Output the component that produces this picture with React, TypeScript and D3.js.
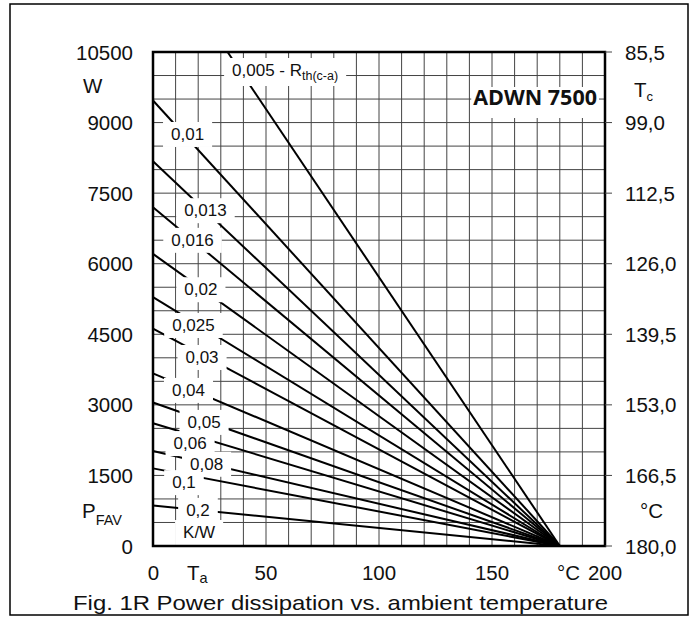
import React, { useEffect, useRef } from 'react';
import * as d3 from 'd3';

// Rth(c-a) curves, K/W
const rthLabels = ['0,005', '0,01', '0,013', '0,016', '0,02', '0,025', '0,03', '0,04', '0,05', '0,06', '0,08', '0,1', '0,2'];
// where each curve enters the grid (Ta in °C, P in W), read from the sheet
const startTa = [33, 0, 0, 0, 0, 0, 0, 0, 0, 0, 0, 0, 0];
const startP = [10500, 9470, 8180, 7200, 6210, 5290, 4620, 3670, 3050, 2610, 2020, 1650, 860];
// all curves meet at Tc = 180 °C, P = 0
const endTa = 180;
const endP = 0;

const powerTicks = [0, 1500, 3000, 4500, 6000, 7500, 9000, 10500];
const tempTicks = [0, 50, 100, 150, 200];
const caseTicks = [180, 166.5, 153, 139.5, 126, 112.5, 99, 85.5];

// label anchors in data units (Ta, P at baseline)
const labelTa = [35, 15.3, 23.2, 17.5, 21.2, 17.9, 21.7, 15.7, 22.6, 16.4, 23.7, 13.7, 19.9];
const labelP = [9990, 8630, 7010, 6380, 5330, 4570, 3890, 3190, 2510, 2060, 1620, 1230, 640];

const FONT = "'Liberation Sans', Arial, sans-serif";

const Chart: React.FC = () => {
  const svgRef = useRef<SVGSVGElement>(null);

  useEffect(() => {
    if (!svgRef.current) return;
    const svg = d3.select(svgRef.current);
    svg.selectAll('*').remove();

    const left = 153, right = 605, top = 52, bottom = 546;

    const x = d3.scaleLinear().domain([0, 200]).range([left, right]);
    const y = d3.scaleLinear().domain([0, 10500]).range([bottom, top]);
    const yc = d3.scaleLinear().domain([180, 85.5]).range([bottom, top]);
    const comma = d3.formatLocale({ decimal: ',', thousands: '', grouping: [3], currency: ['', ''] }).format('.1f');

    svg.append('rect')
      .attr('x', 10).attr('y', 4).attr('width', 678).attr('height', 611)
      .attr('fill', 'white').attr('stroke', 'black').attr('stroke-width', 1.5);

    // grid
    const grid = svg.append('g').attr('stroke', '#444').attr('stroke-width', 1);
    grid.selectAll('line.v')
      .data(d3.range(10, 200, 10))
      .enter().append('line')
        .attr('x1', d => x(d)).attr('x2', d => x(d))
        .attr('y1', top).attr('y2', bottom);
    grid.selectAll('line.h')
      .data(d3.range(500, 10500, 500))
      .enter().append('line')
        .attr('x1', left).attr('x2', right)
        .attr('y1', d => y(d)).attr('y2', d => y(d));

    // curves
    svg.append('g')
      .attr('stroke', 'black').attr('stroke-width', 2)
      .selectAll('line')
      .data(rthLabels.map((l, i) => ({ l, ta: startTa[i], p: startP[i] })))
      .enter().append('line')
        .attr('x1', d => x(d.ta)).attr('y1', d => y(d.p))
        .attr('x2', x(endTa)).attr('y2', y(endP));

    // curve labels on white boxes
    const boxes = svg.append('g').attr('fill', 'white');
    const labels = svg.append('g').attr('font-family', FONT).attr('font-size', 17).attr('fill', '#111');
    const addBox = (node: SVGTextElement, px: number, py: number) => {
      const b = node.getBBox();
      boxes.append('rect')
        .attr('x', b.x - px).attr('y', b.y - py)
        .attr('width', b.width + 2 * px).attr('height', b.height + 2 * py);
    };
    rthLabels.forEach((lab, i) => {
      const t = labels.append('text')
        .attr('x', x(labelTa[i])).attr('y', y(labelP[i]))
        .attr('text-anchor', i === 0 ? 'start' : 'middle');
      if (i === 0) {
        t.text('0,005 - R');
        t.append('tspan').attr('font-size', 12.5).attr('dy', 4).text('th(c-a)');
      } else {
        t.text(lab);
      }
      addBox(t.node() as SVGTextElement, 8, 3);
    });
    const kw = labels.append('text')
      .attr('x', x(20.4)).attr('y', y(170))
      .attr('text-anchor', 'middle').text('K/W');
    addBox(kw.node() as SVGTextElement, 8, 3);

    // type label
    const typeG = svg.append('g');
    const typeBox = typeG.append('rect').attr('fill', 'white');
    const adwn = typeG.append('text')
      .attr('x', 597).attr('y', 105)
      .attr('text-anchor', 'end')
      .attr('font-family', "'Open Sans', sans-serif").attr('font-weight', 700).attr('font-size', 21.5)
      .attr('fill', '#111')
      .text('ADWN 7500');
    const ab = (adwn.node() as SVGTextElement).getBBox();
    typeBox.attr('x', ab.x - 2).attr('y', 87).attr('width', ab.width + 4).attr('height', 31);

    // plot frame
    svg.append('rect')
      .attr('x', left).attr('y', top).attr('width', right - left).attr('height', bottom - top)
      .attr('fill', 'none').attr('stroke', 'black').attr('stroke-width', 2.5);

    // right ticks
    svg.append('g').attr('stroke', '#444').attr('stroke-width', 1)
      .selectAll('line')
      .data(caseTicks)
      .enter().append('line')
        .attr('x1', right).attr('x2', right + 7)
        .attr('y1', d => yc(d)).attr('y2', d => yc(d));

    const axisText = svg.append('g').attr('font-family', FONT).attr('font-size', 20.5).attr('fill', '#111');

    axisText.selectAll('text.l')
      .data(powerTicks)
      .enter().append('text')
        .attr('x', 133).attr('y', d => y(d) + 7.5)
        .attr('text-anchor', 'end')
        .text(d => d);

    axisText.selectAll('text.r')
      .data(caseTicks)
      .enter().append('text')
        .attr('x', 625).attr('y', d => yc(d) + 7.5)
        .text(d => comma(d));

    axisText.selectAll('text.b')
      .data(tempTicks)
      .enter().append('text')
        .attr('x', d => x(d) + (d === 0 ? 0.5 : 0)).attr('y', 580)
        .attr('text-anchor', 'middle')
        .text(d => d);

    axisText.append('text').attr('x', 83).attr('y', 93).text('W');
    const pf = axisText.append('text').attr('x', 82).attr('y', 518).text('P');
    pf.append('tspan').attr('font-size', 14.5).attr('dy', 7).text('FAV');

    const tc = axisText.append('text').attr('x', 634).attr('y', 97).text('T');
    tc.append('tspan').attr('font-size', 13).attr('dy', 4).text('c');
    axisText.append('text').attr('x', 640).attr('y', 518).text('°C');

    const ta = axisText.append('text').attr('x', 187).attr('y', 580).text('T');
    ta.append('tspan').attr('font-size', 14.5).attr('dy', 3).text('a');
    axisText.append('text').attr('x', 580).attr('y', 580).attr('text-anchor', 'end').text('°C');

    svg.append('text')
      .attr('x', 73).attr('y', 610)
      .attr('font-family', FONT).attr('font-size', 21).attr('fill', '#111')
      .attr('textLength', 535).attr('lengthAdjust', 'spacingAndGlyphs')
      .text('Fig. 1R Power dissipation vs. ambient temperature');
  }, []);

  return <svg ref={svgRef} width={697} height={621} style={{ position: 'absolute', left: 0, top: 0 }} />;
};

export default function App() {
  return <Chart />;
}
